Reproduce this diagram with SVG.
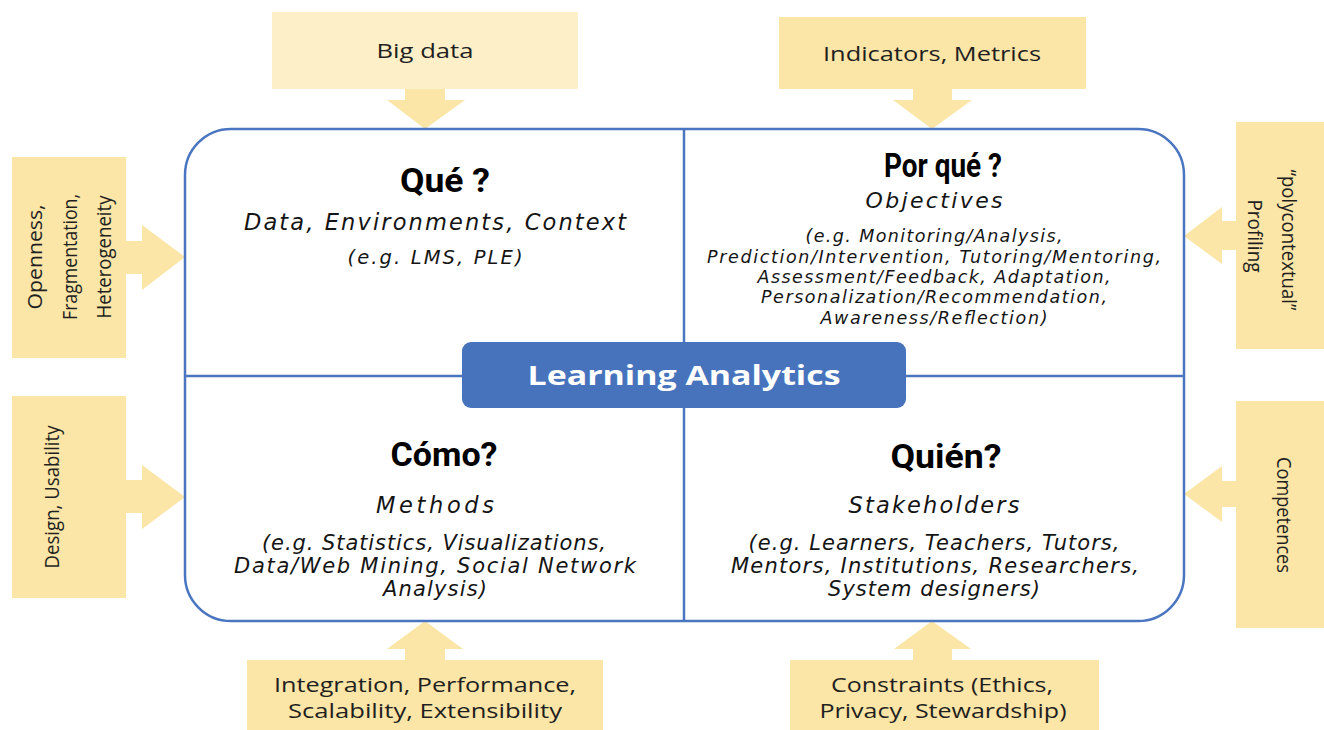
<svg xmlns="http://www.w3.org/2000/svg" width="1324" height="730" viewBox="0 0 1324 730">
  <style>
    .frame { fill: #ffffff; stroke: #4a75c0; stroke-width: 2.5; }
    .divider { stroke: #4a75c0; stroke-width: 2.5; fill: none; }
    .callout { fill: #fbe5a7; }
    .callout-light { fill: #fdefc8; }
    .flow { fill: #fbe5a7; }
    .hub { fill: #4773bd; }
    .hub-text { font-family: "Open Sans", "DejaVu Sans", sans-serif; font-weight: 700; font-size: 26px; fill: #ffffff; text-anchor: middle; }
    .head { font-family: "Liberation Sans Narrow", "Roboto", "Liberation Sans", sans-serif; font-weight: 700; font-size: 34px; fill: #000000; text-anchor: middle; }
    .sub { font-family: "DejaVu Sans", "Verdana", sans-serif; font-style: italic; fill: #141414; text-anchor: middle; }
    .lbl { font-family: "Open Sans", "Noto Sans", sans-serif; font-size: 20px; fill: #1f1f1f; text-anchor: middle; }
  </style>

  <!-- connectors: block arrows from the surrounding factors into the frame -->
  <g id="connectors">
    <!-- top: Big data -->
    <polygon class="flow" points="405,89 445,89 445,100 465,100 425,129 387,100 405,100"/>
    <!-- top: Indicators, Metrics -->
    <polygon class="flow" points="913,89 952,89 952,100 972,100 932,129 893,100 913,100"/>
    <!-- left: Openness, Fragmentation, Heterogeneity -->
    <polygon class="flow" points="126,241 142,241 142,225 185,257 142,290 142,274 126,274"/>
    <!-- left: Design, Usability -->
    <polygon class="flow" points="126,480 142,480 142,465 185,497 142,529 142,513 126,513"/>
    <!-- right: polycontextual profiling -->
    <polygon class="flow" points="1236,221 1222,221 1222,207 1184,236 1222,264 1222,250 1236,250"/>
    <!-- right: Competences -->
    <polygon class="flow" points="1236,481 1222,481 1222,466 1184,494 1222,522 1222,507 1236,507"/>
    <!-- bottom: Integration, Performance -->
    <polygon class="flow" points="405,660 445,660 445,649 463,649 425,621 387,649 405,649"/>
    <!-- bottom: Constraints -->
    <polygon class="flow" points="913,660 952,660 952,649 971,649 932,621 894,649 913,649"/>
  </g>

  <!-- central frame split into four quadrants -->
  <g id="frame">
    <rect class="frame" x="185" y="129" width="999" height="492" rx="46" ry="46"/>
    <line class="divider" x1="684" y1="129" x2="684" y2="342"/>
    <line class="divider" x1="684" y1="408" x2="684" y2="621"/>
    <line class="divider" x1="185" y1="376" x2="462" y2="376"/>
    <line class="divider" x1="906" y1="376" x2="1184" y2="376"/>
  </g>

  <g id="hub">
    <rect class="hub" x="462" y="342" width="444" height="66" rx="9" ry="9"/>
    <text class="hub-text" x="684" y="385" textLength="313" lengthAdjust="spacingAndGlyphs">Learning Analytics</text>
  </g>

  <g id="que">
    <text class="head" x="445" y="192" textLength="90" lengthAdjust="spacingAndGlyphs">Qué ?</text>
    <text class="sub" x="435" y="230" font-size="22.5" textLength="382" lengthAdjust="spacing">Data, Environments, Context</text>
    <text class="sub" x="435" y="264" font-size="19.5" textLength="175" lengthAdjust="spacing">(e.g. LMS, PLE)</text>
  </g>

  <g id="porque">
    <text class="head" x="943" y="177" textLength="118" lengthAdjust="spacingAndGlyphs">Por qué ?</text>
    <text class="sub" x="934" y="208" font-size="22" textLength="137" lengthAdjust="spacing">Objectives</text>
    <text class="sub" x="934" y="242" font-size="17.5" textLength="257" lengthAdjust="spacing">(e.g. Monitoring/Analysis,</text>
    <text class="sub" x="934" y="263" font-size="17.5" textLength="454" lengthAdjust="spacing">Prediction/Intervention, Tutoring/Mentoring,</text>
    <text class="sub" x="934" y="283" font-size="17.5" textLength="353" lengthAdjust="spacing">Assessment/Feedback, Adaptation,</text>
    <text class="sub" x="934" y="303" font-size="17.5" textLength="346" lengthAdjust="spacing">Personalization/Recommendation,</text>
    <text class="sub" x="934" y="324" font-size="17.5" textLength="227" lengthAdjust="spacing">Awareness/Reflection)</text>
  </g>

  <g id="como">
    <text class="head" x="444" y="466" textLength="107" lengthAdjust="spacingAndGlyphs">Cómo?</text>
    <text class="sub" x="435" y="513" font-size="22.5" textLength="118" lengthAdjust="spacing">Methods</text>
    <text class="sub" x="434" y="550" font-size="21" textLength="344" lengthAdjust="spacing">(e.g. Statistics, Visualizations,</text>
    <text class="sub" x="435" y="573" font-size="21" textLength="402" lengthAdjust="spacing">Data/Web Mining, Social Network</text>
    <text class="sub" x="435" y="596" font-size="21" textLength="104" lengthAdjust="spacing">Analysis)</text>
  </g>

  <g id="quien">
    <text class="head" x="946" y="468" textLength="111" lengthAdjust="spacingAndGlyphs">Quién?</text>
    <text class="sub" x="934" y="513" font-size="22.5" textLength="171" lengthAdjust="spacing">Stakeholders</text>
    <text class="sub" x="934" y="550" font-size="21" textLength="371" lengthAdjust="spacing">(e.g. Learners, Teachers, Tutors,</text>
    <text class="sub" x="935" y="573" font-size="21" textLength="408" lengthAdjust="spacing">Mentors, Institutions, Researchers,</text>
    <text class="sub" x="934" y="596" font-size="21" textLength="212" lengthAdjust="spacing">System designers)</text>
  </g>

  <!-- surrounding factor boxes -->
  <g id="big-data">
    <rect class="callout-light" x="272" y="12" width="306" height="77"/>
    <text class="lbl" x="425" y="58" font-size="21" textLength="97" lengthAdjust="spacingAndGlyphs">Big data</text>
  </g>

  <g id="indicators">
    <rect class="callout" x="779" y="17" width="307" height="72"/>
    <text class="lbl" x="932" y="61" font-size="19" textLength="218" lengthAdjust="spacingAndGlyphs">Indicators, Metrics</text>
  </g>

  <g id="openness">
    <rect class="callout" x="12" y="157" width="114" height="201"/>
    <g transform="translate(69,257) rotate(-90)">
      <text class="lbl" x="0" y="-27" font-size="22" textLength="105" lengthAdjust="spacingAndGlyphs">Openness,</text>
      <text class="lbl" x="0" y="8" font-size="22" textLength="126" lengthAdjust="spacingAndGlyphs">Fragmentation,</text>
      <text class="lbl" x="0" y="42" font-size="22" textLength="123" lengthAdjust="spacingAndGlyphs">Heterogeneity</text>
    </g>
  </g>

  <g id="design">
    <rect class="callout" x="12" y="396" width="114" height="202"/>
    <text class="lbl" transform="translate(59,497) rotate(-90)" x="0" y="0" font-size="21" textLength="143" lengthAdjust="spacingAndGlyphs">Design, Usability</text>
  </g>

  <g id="profiling">
    <rect class="callout" x="1236" y="122" width="88" height="227"/>
    <g transform="translate(1272,240) rotate(90)">
      <text class="lbl" x="0" y="-10" font-size="21" textLength="141" lengthAdjust="spacingAndGlyphs">“polycontextual”</text>
      <text class="lbl" x="-4" y="24" font-size="21" textLength="73" lengthAdjust="spacingAndGlyphs">Profiling</text>
    </g>
  </g>

  <g id="competences">
    <rect class="callout" x="1236" y="401" width="88" height="227"/>
    <text class="lbl" transform="translate(1277,515) rotate(90)" x="0" y="0" font-size="21" textLength="116" lengthAdjust="spacingAndGlyphs">Competences</text>
  </g>

  <g id="integration">
    <rect class="callout" x="247" y="660" width="356" height="70"/>
    <text class="lbl" x="425" y="692" font-size="20" textLength="302" lengthAdjust="spacingAndGlyphs">Integration, Performance,</text>
    <text class="lbl" x="425" y="718" font-size="20" textLength="274" lengthAdjust="spacingAndGlyphs">Scalability, Extensibility</text>
  </g>

  <g id="constraints">
    <rect class="callout" x="790" y="660" width="309" height="70"/>
    <text class="lbl" x="942" y="692" font-size="20" textLength="222" lengthAdjust="spacingAndGlyphs">Constraints (Ethics,</text>
    <text class="lbl" x="943" y="718" font-size="20" textLength="247" lengthAdjust="spacingAndGlyphs">Privacy, Stewardship)</text>
  </g>
</svg>
